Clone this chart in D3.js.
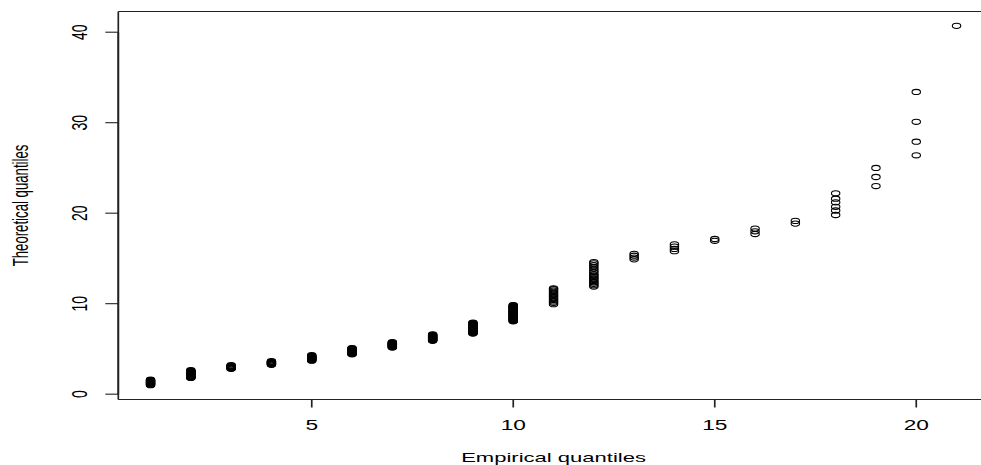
<!DOCTYPE html>
<html>
<head>
<meta charset="utf-8">
<script src="https://cdn.jsdelivr.net/npm/d3@7"></script>
<style>
  html, body { margin: 0; padding: 0; background: #fff; }
  svg { display: block; }
  text { font-family: "Liberation Sans", Arial, sans-serif; fill: #000; }
</style>
</head>
<body>
<svg id="chart" width="981" height="465"></svg>
<script>
// Empirical quantile levels (x) and the theoretical quantiles observed at each level (y)
const empiricalLevels = [1, 2, 3, 4, 5, 6, 7, 8, 9, 10, 11, 12, 13, 14, 15, 16, 17, 18, 19, 20, 21];
const theoreticalByLevel = [
  [1.0, 1.05, 1.1, 1.15, 1.2, 1.25, 1.3, 1.35, 1.4, 1.45, 1.5, 1.55, 1.6],
  [1.8, 1.85, 1.9, 1.95, 2.0, 2.05, 2.1, 2.15, 2.2, 2.25, 2.3, 2.35, 2.4, 2.45, 2.5, 2.55, 2.6, 2.65],
  [2.8, 2.85, 2.9, 2.95, 3.0, 3.05, 3.1, 3.15, 3.2],
  [3.25, 3.3, 3.35, 3.4, 3.45, 3.5, 3.55, 3.6, 3.65],
  [3.7, 3.75, 3.8, 3.85, 3.9, 3.95, 4.0, 4.05, 4.1, 4.15, 4.2, 4.25, 4.3],
  [4.4, 4.45, 4.5, 4.55, 4.6, 4.65, 4.7, 4.75, 4.8, 4.85, 4.9, 4.95, 5.0, 5.05, 5.1],
  [5.15, 5.2, 5.25, 5.3, 5.35, 5.4, 5.45, 5.5, 5.55, 5.6, 5.65, 5.7, 5.75],
  [5.9, 5.95, 6.0, 6.05, 6.1, 6.15, 6.2, 6.25, 6.3, 6.35, 6.4, 6.45, 6.5, 6.55, 6.6],
  [6.7, 6.75, 6.8, 6.85, 6.9, 6.95, 7.0, 7.05, 7.1, 7.15, 7.2, 7.25, 7.3, 7.35, 7.4, 7.45, 7.5, 7.55, 7.6, 7.65, 7.7, 7.75, 7.8, 7.85, 7.9],
  [8.05, 8.1, 8.15, 8.2, 8.25, 8.3, 8.35, 8.4, 8.45, 8.5, 8.55, 8.6, 8.65, 8.7, 8.75, 8.8, 8.85, 8.9, 8.95, 9.0,
   9.05, 9.1, 9.15, 9.2, 9.25, 9.3, 9.35, 9.4, 9.45, 9.5, 9.55, 9.6, 9.65, 9.7, 9.75, 9.8, 9.85],
  [9.95, 10.1, 10.25, 10.4, 10.55, 10.7, 10.85, 11.0, 11.15, 11.3, 11.45, 11.6, 11.7],
  [11.9, 12.05, 12.2, 12.35, 12.5, 12.65, 12.8, 12.95, 13.1, 13.25, 13.45, 13.65, 13.85, 14.05, 14.25, 14.45, 14.6],
  [14.9, 15.1, 15.3, 15.5],
  [15.8, 16.05, 16.3, 16.55],
  [16.95, 17.15],
  [17.7, 18.0, 18.3],
  [18.85, 19.15],
  [19.8, 20.3, 20.7, 21.2, 21.6, 22.2],
  [23.0, 24.0, 25.0],
  [26.4, 27.9, 30.1, 33.4],
  [40.7]
];
const xTickValues = [5, 10, 15, 20];
const yTickValues = [0, 10, 20, 30, 40];
const xTitle = "Empirical quantiles";
const yTitle = "Theoretical quantiles";

const points = [];
empiricalLevels.forEach((lvl, i) => {
  theoreticalByLevel[i].forEach(v => points.push({ x: lvl, y: v }));
});

// Horizontal stretch applied to glyphs and marks
const sx = 1.62;

// Plot region with 4% padding on each side of the data range
const plot = { left: 118.3, right: 988.8, top: 11.5, bottom: 399.5 };
const xExt = d3.extent(points, d => d.x);
const yExt = d3.extent(points, d => d.y);
const xPad = (xExt[1] - xExt[0]) * 0.04;
const yPad = (yExt[1] - yExt[0]) * 0.04;

const x = d3.scaleLinear().domain([xExt[0] - xPad, xExt[1] + xPad]).range([plot.left, plot.right]);
const y = d3.scaleLinear().domain([yExt[0] - yPad, yExt[1] + yPad]).range([plot.bottom, plot.top]);

const svg = d3.select("#chart");

// Points: open circles
svg.append("g")
  .selectAll("ellipse")
  .data(points)
  .join("ellipse")
  .attr("cx", d => x(d.x))
  .attr("cy", d => y(d.y))
  .attr("rx", 2.6 * sx)
  .attr("ry", 2.6)
  .attr("fill", "none")
  .attr("stroke", "#000")
  .attr("stroke-width", 1.1);

// Box around the plot region
const box = svg.append("g").attr("stroke", "#222").attr("fill", "none");
box.append("line").attr("x1", plot.left).attr("x2", plot.right).attr("y1", plot.top).attr("y2", plot.top).attr("stroke-width", 1.1);
box.append("line").attr("x1", plot.left).attr("x2", plot.right).attr("y1", plot.bottom).attr("y2", plot.bottom).attr("stroke-width", 1.1);
box.append("line").attr("x1", plot.left).attr("x2", plot.left).attr("y1", plot.top).attr("y2", plot.bottom).attr("stroke-width", 1.7);

// Bottom axis
const xAxis = svg.append("g");
xAxis.append("line")
  .attr("x1", x(xTickValues[0])).attr("x2", x(xTickValues[xTickValues.length - 1]))
  .attr("y1", plot.bottom).attr("y2", plot.bottom)
  .attr("stroke", "#222").attr("stroke-width", 1.1);
xAxis.selectAll("line.tick")
  .data(xTickValues)
  .join("line")
  .attr("class", "tick")
  .attr("x1", d => x(d)).attr("x2", d => x(d))
  .attr("y1", plot.bottom).attr("y2", plot.bottom + 8)
  .attr("stroke", "#222").attr("stroke-width", 1.7);
xAxis.selectAll("text")
  .data(xTickValues)
  .join("text")
  .attr("transform", d => `translate(${x(d)},430) scale(${sx},1)`)
  .attr("text-anchor", "middle")
  .attr("font-size", 14)
  .text(d => d);

// Left axis
const yAxis = svg.append("g");
yAxis.append("line")
  .attr("x1", plot.left).attr("x2", plot.left)
  .attr("y1", y(yTickValues[0])).attr("y2", y(yTickValues[yTickValues.length - 1]))
  .attr("stroke", "#222").attr("stroke-width", 1.7);
yAxis.selectAll("line.tick")
  .data(yTickValues)
  .join("line")
  .attr("class", "tick")
  .attr("x1", plot.left - 13).attr("x2", plot.left)
  .attr("y1", d => y(d)).attr("y2", d => y(d))
  .attr("stroke", "#222").attr("stroke-width", 1.1);
yAxis.selectAll("text")
  .data(yTickValues)
  .join("text")
  .attr("transform", d => `translate(86.5,${y(d)}) scale(${sx},1) rotate(-90)`)
  .attr("text-anchor", "middle")
  .attr("font-size", 14)
  .text(d => d);

// Axis titles
svg.append("text")
  .attr("transform", `translate(${(plot.left + plot.right) / 2},461.5) scale(${sx},1)`)
  .attr("text-anchor", "middle")
  .attr("font-size", 13.6)
  .text(xTitle);

svg.append("text")
  .attr("transform", `translate(27.5,${(plot.top + plot.bottom) / 2}) scale(${sx},1) rotate(-90)`)
  .attr("text-anchor", "middle")
  .attr("font-size", 13.2)
  .text(yTitle);
</script>
</body>
</html>
